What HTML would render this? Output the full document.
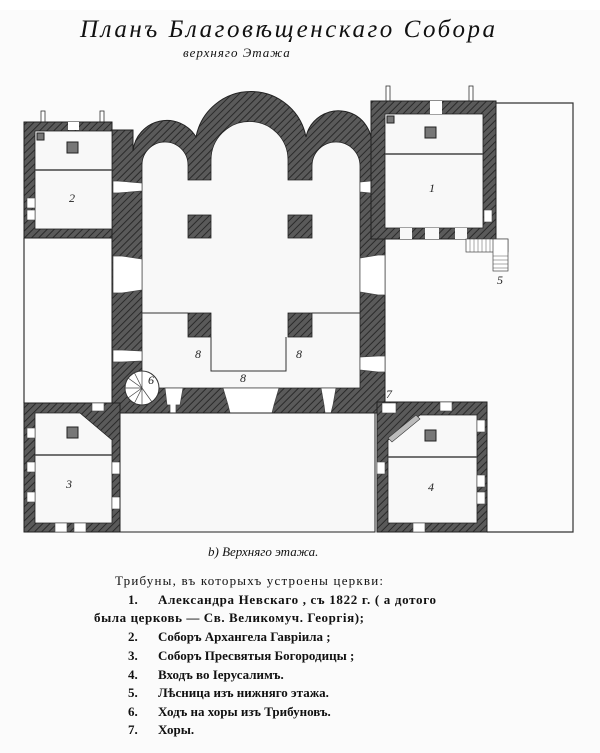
<!DOCTYPE html>
<html><head><meta charset="utf-8"><style>
html,body{margin:0;padding:0;background:#fbfbfb;}
svg{display:block}
.t{font-family:"Liberation Serif","DejaVu Serif",serif;fill:#111;}
.lab{font-family:"Liberation Serif",serif;font-style:italic;font-size:12px;fill:#222;}
</style></head><body>
<svg width="600" height="753" viewBox="0 0 600 753" xmlns="http://www.w3.org/2000/svg">
<defs>
<pattern id="h" width="5" height="5" patternUnits="userSpaceOnUse" patternTransform="rotate(45)">
<rect width="5" height="5" fill="#5a5a5a"/><line x1="0" y1="0" x2="0" y2="5" stroke="#2a2a2a" stroke-width="2"/>
</pattern>
</defs>
<rect width="600" height="753" fill="#fbfbfb"/>
<rect x="0" y="0" width="600" height="10" fill="#fff"/>
<text class="t" x="80" y="37" font-size="25" font-style="italic" textLength="415">Планъ Благовѣщенскаго    Собора</text>
<text class="t" x="183" y="57" font-size="13" font-style="italic" letter-spacing="1">верхняго    Этажа</text>

<polyline points="496,103 573,103 573,532 487,532" fill="none" stroke="#333" stroke-width="1.2"/>
<line x1="24" y1="238" x2="24" y2="403" stroke="#333" stroke-width="1.2"/>
<g fill="#fff" stroke="#333" stroke-width="0.8">
<rect x="41" y="111" width="4" height="12"/><rect x="100" y="111" width="4" height="12"/>
<rect x="386" y="86" width="4" height="15"/><rect x="469" y="86" width="4" height="15"/>
</g>

<g fill="url(#h)" stroke="#222" stroke-width="1">
<path d="M112,130 L133,130 L133,151 A34,34 0 0 1 196,137 A56,56 0 0 1 306,137 A33,33 0 0 1 371,151 L385,151 L385,413 L112,413 Z"/>
</g>
<g fill="#f8f8f8" stroke="#222" stroke-width="0.8">
<path d="M142,388 L142,165 A23,23 0 0 1 188,165 L188,180 L211,180 L211,160 A38,38 0 0 1 288,160 L288,180 L312,180 L312,166 A24,24 0 0 1 360,166 L360,388 Z"/>
</g>
<g fill="url(#h)" stroke="#222" stroke-width="0.8">
<rect x="188" y="215" width="23" height="23"/><rect x="288" y="215" width="24" height="23"/>
<rect x="188" y="313" width="23" height="24"/><rect x="288" y="313" width="24" height="24"/>
</g>
<g stroke="#333" stroke-width="1" fill="none">
<line x1="142" y1="313" x2="188" y2="313"/><line x1="312" y1="313" x2="360" y2="313"/>
<polyline points="211,337 211,371 286,371 286,337"/>
</g>
<g fill="#fff" stroke="#444" stroke-width="0.7">
<path d="M113,181 L118,181 L142,183 L142,191 L118,193 L113,193Z"/>
<path d="M113,256 L122,256 L142,259 L142,290 L122,293 L113,293Z"/>
<path d="M113,350 L122,350 L142,351 L142,361 L122,362 L113,362Z"/>
<path d="M385,180 L380,180 L360,182 L360,192 L380,194 L385,194Z"/>
<path d="M385,255 L378,255 L360,258 L360,292 L378,295 L385,295Z"/>
<path d="M385,356 L378,356 L360,357 L360,370 L378,372 L385,372Z"/>
<path d="M165,388 L183,388 L180,405 L176,405 L176,413 L170,413 L170,405 L167,405Z"/>
<path d="M223,388 L279,388 L274,405 L272,413 L230,413 L228,405Z"/>
<path d="M321,388 L336,388 L333,405 L331,413 L325,413 L324,405Z"/>
</g>
<circle cx="142" cy="388" r="17" fill="#fff" stroke="#333"/>
<g stroke="#444" stroke-width="0.7">
<line x1="142" y1="388" x2="125" y2="388"/><line x1="142" y1="388" x2="128" y2="378"/><line x1="142" y1="388" x2="134" y2="372"/><line x1="142" y1="388" x2="142" y2="371"/>
<line x1="142" y1="388" x2="128" y2="398"/><line x1="142" y1="388" x2="134" y2="404"/><line x1="142" y1="388" x2="142" y2="405"/><line x1="142" y1="388" x2="152" y2="402"/>
</g>

<rect x="24" y="122" width="88" height="116" fill="url(#h)" stroke="#222"/>
<rect x="35" y="131" width="77" height="98" fill="#f8f8f8" stroke="#222" stroke-width="0.8"/>
<line x1="35" y1="170" x2="112" y2="170" stroke="#444" stroke-width="1.5"/>
<rect x="67" y="142" width="11" height="11" fill="#777" stroke="#222"/><rect x="37" y="133" width="7" height="7" fill="#777" stroke="#222"/>
<rect x="27" y="198" width="8" height="10" fill="#fff" stroke="#444" stroke-width="0.6"/><rect x="27" y="210" width="8" height="10" fill="#fff" stroke="#444" stroke-width="0.6"/>
<rect x="68" y="122" width="11" height="8" fill="#fff"/>
<rect x="371" y="101" width="125" height="138" fill="url(#h)" stroke="#222"/>
<rect x="385" y="114" width="98" height="114" fill="#f8f8f8" stroke="#222" stroke-width="0.8"/>
<line x1="385" y1="154" x2="483" y2="154" stroke="#444" stroke-width="1.5"/>
<rect x="425" y="127" width="11" height="11" fill="#777" stroke="#222"/><rect x="387" y="116" width="7" height="7" fill="#777" stroke="#222"/>
<rect x="430" y="101" width="12" height="13" fill="#fff"/>
<g fill="#f8f8f8"><rect x="400" y="228" width="12" height="11"/><rect x="425" y="228" width="14" height="11"/><rect x="455" y="228" width="12" height="11"/></g>
<rect x="484" y="210" width="8" height="12" fill="#fff" stroke="#444" stroke-width="0.6"/>
<g fill="#fff" stroke="#444" stroke-width="0.7">
<rect x="466" y="239" width="42" height="13"/><rect x="493" y="239" width="15" height="32"/>
</g>
<g stroke="#555" stroke-width="0.5">
<line x1="470" y1="239" x2="470" y2="252"/><line x1="474" y1="239" x2="474" y2="252"/><line x1="478" y1="239" x2="478" y2="252"/><line x1="482" y1="239" x2="482" y2="252"/><line x1="486" y1="239" x2="486" y2="252"/><line x1="490" y1="239" x2="490" y2="252"/>
<line x1="493" y1="256" x2="508" y2="256"/><line x1="493" y1="260" x2="508" y2="260"/><line x1="493" y1="264" x2="508" y2="264"/><line x1="493" y1="268" x2="508" y2="268"/>
</g>

<rect x="24" y="403" width="96" height="129" fill="url(#h)" stroke="#222"/>
<path d="M35,413 L80,413 L112,440 L112,523 L35,523 Z" fill="#f8f8f8" stroke="#222" stroke-width="0.8"/>
<line x1="35" y1="455" x2="112" y2="455" stroke="#444" stroke-width="1.5"/>
<rect x="67" y="427" width="11" height="11" fill="#777" stroke="#222"/>
<g fill="#fff" stroke="#444" stroke-width="0.6"><rect x="27" y="428" width="8" height="10"/><rect x="27" y="462" width="8" height="10"/><rect x="27" y="492" width="8" height="10"/><rect x="112" y="462" width="8" height="12"/><rect x="112" y="497" width="8" height="12"/><rect x="55" y="523" width="12" height="9"/><rect x="74" y="523" width="12" height="9"/><rect x="92" y="403" width="12" height="8"/></g>
<rect x="377" y="402" width="110" height="130" fill="url(#h)" stroke="#222"/>
<path d="M420,415 L477,415 L477,523 L388,523 L388,440 Z" fill="#f8f8f8" stroke="#222" stroke-width="0.8"/>
<line x1="388" y1="457" x2="477" y2="457" stroke="#444" stroke-width="1.5"/>
<path d="M388,438 L416,415 L420,419 L392,442Z" fill="#bbb" stroke="#333" stroke-width="0.6"/>
<rect x="425" y="430" width="11" height="11" fill="#777" stroke="#222"/>
<g fill="#fff" stroke="#444" stroke-width="0.6"><rect x="440" y="402" width="12" height="9"/><rect x="477" y="420" width="8" height="12"/><rect x="477" y="475" width="8" height="12"/><rect x="477" y="492" width="8" height="12"/><rect x="377" y="462" width="8" height="12"/><rect x="413" y="523" width="12" height="9"/><rect x="382" y="403" width="14" height="10"/></g>
<rect x="120" y="413" width="255" height="119" fill="#f8f8f8" stroke="#222" stroke-width="1"/>

<text class="lab" x="69" y="202">2</text>
<text class="lab" x="429" y="192">1</text>
<text class="lab" x="497" y="284">5</text>
<text class="lab" x="195" y="358">8</text>
<text class="lab" x="296" y="358">8</text>
<text class="lab" x="240" y="382">8</text>
<text class="lab" x="148" y="384">6</text>
<text class="lab" x="386" y="398">7</text>
<text class="lab" x="66" y="488">3</text>
<text class="lab" x="428" y="491">4</text>

<g class="t" font-size="13">
<text x="208" y="556" font-style="italic">b)   Верхняго этажа.</text>
<text x="115" y="585" textLength="268">Трибуны, въ которыхъ устроены церкви:</text>
<text x="128" y="604" font-weight="bold">1.</text><text x="158" y="604" textLength="278" font-weight="bold">Александра Невскаго ,  съ 1822 г.  ( а дотого</text>
<text x="94" y="622" textLength="270" font-weight="bold">была церковь — Св. Великомуч. Георгія);</text>
<text x="128" y="641" font-weight="bold">2.</text><text x="158" y="641" font-weight="bold">Соборъ Архангела Гавріила ;</text>
<text x="128" y="660" font-weight="bold">3.</text><text x="158" y="660" font-weight="bold">Соборъ Пресвятыя Богородицы ;</text>
<text x="128" y="679" font-weight="bold">4.</text><text x="158" y="679" font-weight="bold">Входъ во Іерусалимъ.</text>
<text x="128" y="697" font-weight="bold">5.</text><text x="158" y="697" font-weight="bold">Лѣсница изъ нижняго этажа.</text>
<text x="128" y="716" font-weight="bold">6.</text><text x="158" y="716" font-weight="bold">Ходъ на хоры изъ Трибуновъ.</text>
<text x="128" y="734" font-weight="bold">7.</text><text x="158" y="734" font-weight="bold">Хоры.</text>
</g>
</svg>
</body></html>
